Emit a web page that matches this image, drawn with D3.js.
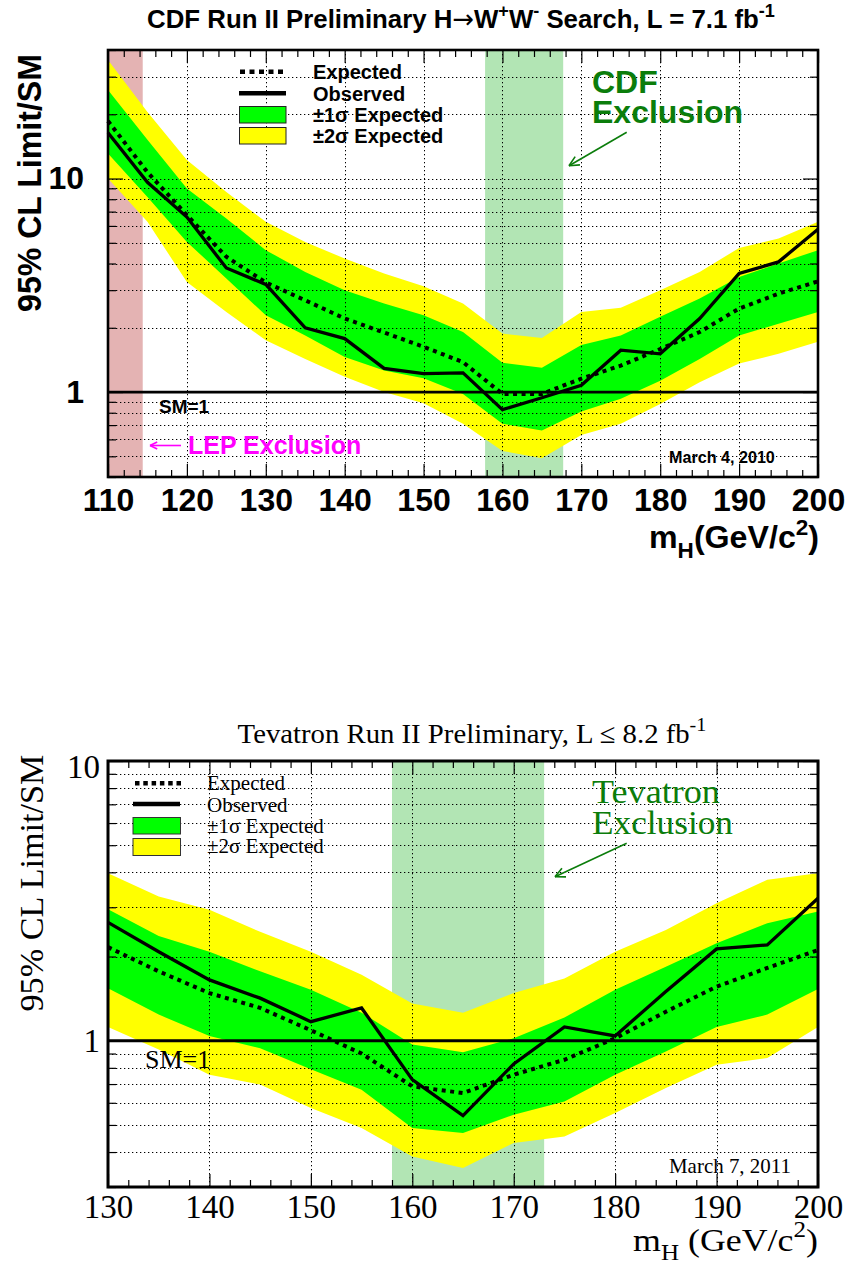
<!DOCTYPE html>
<html><head><meta charset="utf-8">
<script src="https://cdn.jsdelivr.net/npm/d3@7/dist/d3.min.js"></script>
<style>body{margin:0;background:#fff} svg{display:block}</style>
</head><body>
<svg id="c" width="849" height="1272"></svg>
<script>
// ---------------- DATA: CDF H->WW (top panel) ----------------
const massCDF   = [110,115,120,125,130,135,140,145,150,155,160,165,170,175,180,185,190,195,200];
const obsCDF    = [16.4,9.6,6.6,3.81,3.19,2.0,1.78,1.29,1.22,1.23,0.827,0.94,1.075,1.57,1.51,2.21,3.59,4.07,5.79];
const expCDF    = [18.6,10.7,6.74,4.3,3.26,2.69,2.21,1.9,1.63,1.38,0.98,0.98,1.155,1.33,1.59,1.91,2.46,2.89,3.3];
const p1CDF     = [26,15.2,8.98,6.5,4.62,3.65,3.0,2.6,2.29,1.91,1.37,1.3,1.66,1.84,2.25,2.74,3.46,4.0,4.62];
const m1CDF     = [13.1,8.2,5.05,3.4,2.29,1.84,1.46,1.26,1.16,0.98,0.71,0.66,0.81,0.93,1.13,1.43,1.84,2.09,2.37];
const p2CDF     = [35.9,20.5,12.2,8.66,6.27,5.05,4.22,3.59,3.13,2.6,1.88,1.79,2.37,2.48,3.0,3.65,4.73,5.24,6.27];
const m2CDF     = [10,6.27,3.28,2.37,1.75,1.43,1.18,1.0,0.885,0.71,0.53,0.49,0.63,0.71,0.88,1.11,1.36,1.51,1.72];
const xTicksCDF = [110,120,130,140,150,160,170,180,190,200];
const yTicksCDF = [1,10];
const lepExcl   = [110,114.4];
const cdfExcl   = [157.8,167.7];

// ---------------- DATA: Tevatron combination (bottom panel) ----------------
const massTev   = [130,135,140,145,150,155,160,165,170,175,180,185,190,195,200];
const obsTev    = [2.65,2.08,1.65,1.42,1.17,1.31,0.726,0.54,0.826,1.12,1.04,1.5,2.13,2.2,3.23];
const expTev    = [2.16,1.77,1.48,1.31,1.09,0.9,0.687,0.65,0.756,0.855,1.02,1.27,1.56,1.82,2.11];
const p1Tev     = [2.95,2.37,2.08,1.77,1.52,1.26,0.97,0.91,1.02,1.21,1.52,1.84,2.23,2.63,2.9];
const m1Tev     = [1.54,1.24,1.04,0.94,0.79,0.668,0.488,0.468,0.544,0.607,0.756,0.916,1.12,1.24,1.53];
const p2Tev     = [3.97,3.28,2.94,2.45,2.08,1.72,1.36,1.26,1.48,1.67,2.08,2.49,3.1,3.76,3.97];
const m2Tev     = [1.12,0.93,0.756,0.697,0.575,0.488,0.386,0.351,0.431,0.455,0.552,0.678,0.82,0.867,1.12];
const xTicksTev = [130,140,150,160,170,180,190,200];
const yTicksTev = [1,10];
const tevExcl   = [158,173];

// ---------------- helpers ----------------
const svg = d3.select('#c');
const SANS = "'Liberation Sans', Arial, Helvetica, sans-serif";
const SERIF = "'Liberation Serif', 'Times New Roman', Times, serif";

function rich(t, parts, size) {
  let shift = 0;
  parts.forEach(p => {
    const [txt, kind] = Array.isArray(p) ? p : [p, null];
    let target = 0;
    if (kind === 'sup') target = -0.42 * size;
    if (kind === 'sub') target = 0.3 * size;
    const ts = t.append('tspan').text(txt).attr('dy', target - shift);
    if (kind === 'sup' || kind === 'sub') ts.style('font-size', (size * 0.7) + 'px');
    if (kind === 'sym') ts.style('font-family', "'DejaVu Sans', sans-serif").style('font-weight', 'normal');
    shift = target;
  });
}
function label(x, y, o, parts) {
  const g = svg.append('g').attr('transform', `translate(${x},${y})` + (o.rotate ? ` rotate(${o.rotate})` : ''));
  const t = g.append('text').attr('text-anchor', o.anchor || 'start')
    .style('font-family', o.font).style('font-size', o.size + 'px')
    .style('font-weight', o.weight || 'normal').attr('fill', o.fill || '#000');
  rich(t, parts, o.size);
  if (o.width) {
    const w = t.node().getBBox().width;
    if (w > 0) t.attr('transform', `scale(${o.width / w},1)`);
  }
  return t;
}
function arrow(x1, y1, x2, y2, color, head, w) {
  const g = svg.append('g').attr('stroke', color).attr('stroke-width', w).attr('fill', 'none');
  g.append('line').attr('x1', x1).attr('y1', y1).attr('x2', x2).attr('y2', y2);
  const a = Math.atan2(y2 - y1, x2 - x1);
  [0.45, -0.45].forEach(d => {
    g.append('line').attr('x1', x2).attr('y1', y2)
      .attr('x2', x2 - head * Math.cos(a + d)).attr('y2', y2 - head * Math.sin(a + d));
  });
}

function panel(p) {
  const g = svg.append('g');
  const x = d3.scaleLinear().domain(p.xDomain).range([p.left, p.right]);
  const y = d3.scaleLog().domain(p.yDomain).range([p.bottom, p.top]);

  p.regions.forEach(r => g.append('rect')
    .attr('x', x(r.range[0])).attr('width', x(r.range[1]) - x(r.range[0]))
    .attr('y', p.top).attr('height', p.bottom - p.top).attr('fill', r.color));

  const band = (lo, hi) => d3.area().x((d, i) => x(p.mass[i])).y0((d, i) => y(lo[i])).y1((d, i) => y(hi[i]));
  g.append('path').datum(p.m2).attr('d', band(p.m2, p.p2)).attr('fill', '#ffff00');
  g.append('path').datum(p.m1).attr('d', band(p.m1, p.p1)).attr('fill', '#00ff00');

  // grid
  const yAll = y.ticks().filter(v => y(v) > p.top + 1 && y(v) < p.bottom - 1);
  const yGrid = yAll.filter(v => Math.abs(v - 1) > 1e-9);
  const xGrid = p.xTicks.filter(v => x(v) > p.left + 1 && x(v) < p.right - 1);
  const grid = g.append('g').attr('stroke', '#000').attr('stroke-width', 1).attr('stroke-dasharray', '1.3,2.7');
  grid.selectAll('.h').data(yGrid).join('line').attr('x1', p.left).attr('x2', p.right)
    .attr('y1', d => Math.round(y(d)) + 0.5).attr('y2', d => Math.round(y(d)) + 0.5);
  grid.selectAll('.v').data(xGrid).join('line').attr('y1', p.top).attr('y2', p.bottom)
    .attr('x1', d => Math.round(x(d)) + 0.5).attr('x2', d => Math.round(x(d)) + 0.5);

  // SM = 1
  g.append('line').attr('x1', p.left).attr('x2', p.right).attr('y1', y(1)).attr('y2', y(1))
    .attr('stroke', '#000').attr('stroke-width', 2.8);

  const line = d3.line().x((d, i) => x(p.mass[i])).y(d => y(d));
  g.append('path').datum(p.exp).attr('d', line).attr('fill', 'none').attr('stroke', '#000')
    .attr('stroke-width', 4).attr('stroke-dasharray', '4,4.5');
  g.append('path').datum(p.obs).attr('d', line).attr('fill', 'none').attr('stroke', '#000')
    .attr('stroke-width', 3.3).attr('stroke-linejoin', 'miter');

  // axes (ticks inward)
  const xMinor = d3.range(p.xDomain[0], p.xDomain[1] + 0.01, 2).filter(v => !p.xTicks.includes(v));
  const yMinor = y.ticks().filter(v => !p.yTicks.includes(v));
  const styleAxis = s => { s.select('.domain').remove(); s.selectAll('.tick line').attr('stroke', '#000').attr('stroke-width', 1.2); };
  g.append('g').attr('transform', `translate(0,${p.bottom})`)
    .call(d3.axisBottom(x).tickValues(xMinor).tickSize(-7).tickFormat('')).call(styleAxis);
  g.append('g').attr('transform', `translate(0,${p.top})`)
    .call(d3.axisTop(x).tickValues(xMinor).tickSize(-7).tickFormat('')).call(styleAxis);
  g.append('g').attr('transform', `translate(0,${p.top})`)
    .call(d3.axisTop(x).tickValues(p.xTicks).tickSize(-13).tickFormat('')).call(styleAxis);
  const xb = g.append('g').attr('transform', `translate(0,${p.bottom})`)
    .call(d3.axisBottom(x).tickValues(p.xTicks).tickSize(-13).tickPadding(p.xPad).tickFormat(d3.format('d'))).call(styleAxis);
  g.append('g').attr('transform', `translate(${p.left},0)`)
    .call(d3.axisLeft(y).tickValues(yMinor).tickSize(-8).tickFormat('')).call(styleAxis);
  g.append('g').attr('transform', `translate(${p.right},0)`)
    .call(d3.axisRight(y).tickValues(yMinor).tickSize(-8).tickFormat('')).call(styleAxis);
  g.append('g').attr('transform', `translate(${p.right},0)`)
    .call(d3.axisRight(y).tickValues(p.yTicks).tickSize(-15).tickFormat('')).call(styleAxis);
  const yl = g.append('g').attr('transform', `translate(${p.left},0)`)
    .call(d3.axisLeft(y).tickValues(p.yTicks).tickSize(-15).tickPadding(p.yPad).tickFormat(d3.format('d'))).call(styleAxis);
  [xb, yl].forEach(a => a.selectAll('text').style('font-family', p.font).style('font-size', p.tickSize + 'px')
    .style('font-weight', p.weight).attr('fill', '#000'));
  yl.selectAll('text').filter(d => d === p.yDomain[1]).attr('dy', '0.5em');

  g.append('rect').attr('x', p.left).attr('y', p.top).attr('width', p.right - p.left)
    .attr('height', p.bottom - p.top).attr('fill', 'none').attr('stroke', '#000').attr('stroke-width', p.frame);
  return { x, y };
}

// ---------------- TOP PANEL ----------------
panel({
  left: 108, right: 818, top: 50, bottom: 477,
  xDomain: [110, 200], yDomain: [0.4, 40],
  mass: massCDF, obs: obsCDF, exp: expCDF, p1: p1CDF, m1: m1CDF, p2: p2CDF, m2: m2CDF,
  xTicks: xTicksCDF, yTicks: yTicksCDF,
  regions: [{ range: lepExcl, color: '#e4b3b3' }, { range: cdfExcl, color: '#b2e5b4' }],
  font: SANS, weight: 'bold', tickSize: 32, xPad: 11, yPad: 24, frame: 2.6
});

label(461, 28, { font: SANS, size: 26, weight: 'bold', anchor: 'middle', width: 628 },
  ['CDF Run II Preliminary H', ['\u2192', 'sym'], 'W', ['+', 'sup'], 'W', ['-', 'sup'], ' Search, L = 7.1 fb', ['-1', 'sup']]);
label(41, 183, { font: SANS, size: 34, weight: 'bold', anchor: 'middle', rotate: -90, width: 258 }, ['95% CL Limit/SM']);
label(819, 548, { font: SANS, size: 32, weight: 'bold', anchor: 'end', width: 170 }, ['m', ['H', 'sub'], '(GeV/c', ['2', 'sup'], ')']);

// legend top
{
  const lg = svg.append('g');
  lg.append('line').attr('x1', 240).attr('x2', 287).attr('y1', 71.7).attr('y2', 71.7)
    .attr('stroke', '#000').attr('stroke-width', 4.5).attr('stroke-dasharray', '5,4.5');
  lg.append('line').attr('x1', 239).attr('x2', 286).attr('y1', 93.3).attr('y2', 93.3)
    .attr('stroke', '#000').attr('stroke-width', 4.5);
  lg.append('rect').attr('x', 239.5).attr('y', 106.5).attr('width', 46.5).attr('height', 16.5)
    .attr('fill', '#00ff00').attr('stroke', '#222').attr('stroke-width', 1);
  lg.append('rect').attr('x', 239.5).attr('y', 127.5).attr('width', 46.5).attr('height', 16.5)
    .attr('fill', '#ffff00').attr('stroke', '#222').attr('stroke-width', 1);
  const o = { font: SANS, size: 20, weight: 'bold' };
  label(313, 79.3, o, ['Expected']);
  label(313, 101, o, ['Observed']);
  label(313, 122.3, o, ['\u00b11\u03c3 Expected']);
  label(313, 142.7, o, ['\u00b12\u03c3 Expected']);
}
label(159, 413.3, { font: SANS, size: 19, weight: 'bold' }, ['SM=1']);
arrow(181, 445.5, 150, 445.5, '#ff00ff', 8, 1.6);
label(188, 454.3, { font: SANS, size: 25, weight: 'bold', fill: '#ff00ff' }, ['LEP Exclusion']);
label(592, 93.3, { font: SANS, size: 32, weight: 'bold', fill: '#0b7d0b' }, ['CDF']);
label(592, 123.3, { font: SANS, size: 32, weight: 'bold', fill: '#0b7d0b' }, ['Exclusion']);
arrow(626.7, 132.3, 569, 165.7, '#0b7d0b', 11, 1.6);
label(669, 463.3, { font: SANS, size: 16, weight: 'bold', width: 106 }, ['March 4, 2010']);

// ---------------- BOTTOM PANEL ----------------
panel({
  left: 108, right: 818, top: 761, bottom: 1187,
  xDomain: [130, 200], yDomain: [0.3, 10],
  mass: massTev, obs: obsTev, exp: expTev, p1: p1Tev, m1: m1Tev, p2: p2Tev, m2: m2Tev,
  xTicks: xTicksTev, yTicks: yTicksTev,
  regions: [{ range: tevExcl, color: '#b2e5b4' }],
  font: SERIF, weight: 'normal', tickSize: 33, xPad: 8, yPad: 8, frame: 3
});

label(472, 743, { font: SERIF, size: 28, anchor: 'middle', width: 469 },
  ['Tevatron Run II Preliminary, L \u2264 8.2 fb', ['-1', 'sup']]);
label(43, 883, { font: SERIF, size: 34, anchor: 'middle', rotate: -90, width: 257 }, ['95% CL Limit/SM']);
label(633, 1250.7, { font: SERIF, size: 32, width: 185 }, ['m', ['H', 'sub'], ' (GeV/c', ['2', 'sup'], ')']);

{
  const lg = svg.append('g');
  lg.append('line').attr('x1', 135).attr('x2', 181).attr('y1', 783.3).attr('y2', 783.3)
    .attr('stroke', '#000').attr('stroke-width', 4.5).attr('stroke-dasharray', '4.5,3.8');
  lg.append('line').attr('x1', 133).attr('x2', 180).attr('y1', 804).attr('y2', 804)
    .attr('stroke', '#000').attr('stroke-width', 4.5);
  lg.append('rect').attr('x', 133).attr('y', 817.5).attr('width', 47.5).attr('height', 16.5)
    .attr('fill', '#00ff00').attr('stroke', '#333').attr('stroke-width', 1);
  lg.append('rect').attr('x', 133).attr('y', 838.5).attr('width', 47.5).attr('height', 17)
    .attr('fill', '#ffff00').attr('stroke', '#333').attr('stroke-width', 1);
  const o = { font: SERIF, size: 21 };
  label(207, 790, o, ['Expected']);
  label(207, 811.7, o, ['Observed']);
  label(207, 832.7, o, ['\u00b11\u03c3 Expected']);
  label(207, 853.3, o, ['\u00b12\u03c3 Expected']);
}
label(145, 1068.3, { font: SERIF, size: 26 }, ['SM=1']);
label(592, 803.3, { font: SERIF, size: 34, fill: '#0b7d0b', width: 128 }, ['Tevatron']);
label(592, 834, { font: SERIF, size: 34, fill: '#0b7d0b', width: 141 }, ['Exclusion']);
arrow(626.7, 843.3, 555, 876.7, '#0b7d0b', 11, 1.6);
label(669, 1173.3, { font: SERIF, size: 21, width: 122 }, ['March 7, 2011']);
</script>
</body></html>
